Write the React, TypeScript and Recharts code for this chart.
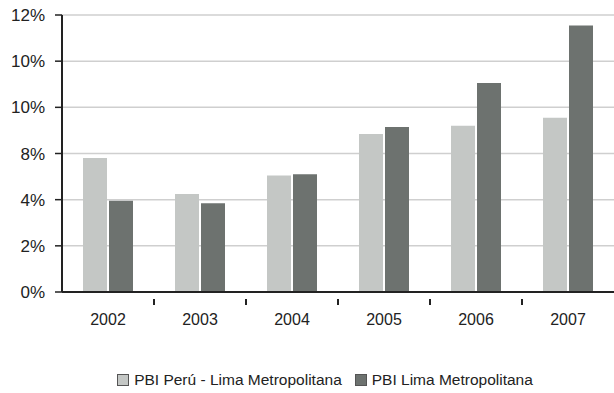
import { BarChart, Bar, XAxis, YAxis, CartesianGrid, Legend } from 'recharts';

// growth by year, in percent
const years = ['2002', '2003', '2004', '2005', '2006', '2007'];
const peruSinLima = [5.8, 4.25, 5.05, 6.85, 7.2, 7.55];
const limaMetro = [3.95, 3.85, 5.1, 7.15, 9.05, 11.55];

// tick positions and the labels printed beside them
const yTicks = [0, 2, 4, 6, 8, 10, 12];
const yTickLabels = ['0%', '2%', '4%', '8%', '10%', '10%', '12%'];

const seriesNames = ['PBI Perú - Lima Metropolitana', 'PBI Lima Metropolitana'];
const LIGHT = '#c4c7c5';
const DARK = '#6d726f';
const FONT = "Arial, 'Liberation Sans', sans-serif";

const data = years.map((year, i) => ({
  year,
  peru: peruSinLima[i],
  lima: limaMetro[i],
}));

function YearTick(props: any) {
  const { x, y, payload, width } = props;
  const band = width / years.length;
  return (
    <g>
      <text x={x} y={y + 25} textAnchor="middle" fontSize={16} fill="#222" fontFamily={FONT}>
        {payload.value}
      </text>
      {payload.index < years.length - 1 && (
        <line x1={x + band / 2} x2={x + band / 2} y1={y - 1} y2={y + 5} stroke="#222" strokeWidth={2} />
      )}
    </g>
  );
}

function LegendBox() {
  const colors = [LIGHT, DARK];
  return (
    <div
      style={{
        display: 'flex',
        justifyContent: 'center',
        paddingLeft: 36,
        gap: 13,
        fontFamily: FONT,
        fontSize: 15.5,
        color: '#222',
      }}
    >
      {seriesNames.map((name, i) => (
        <div key={name} style={{ display: 'flex', alignItems: 'center', gap: 5 }}>
          <span
            style={{
              width: 10,
              height: 10,
              background: colors[i],
              border: '1px solid #555',
              display: 'inline-block',
            }}
          />
          <span>{name}</span>
        </div>
      ))}
    </div>
  );
}

export default function App() {
  return (
    <div style={{ position: 'absolute', left: 0, top: 0, width: 614, height: 393, background: '#fff' }}>
      <BarChart
        width={614}
        height={393}
        data={data}
        margin={{ top: 15, right: 0, left: 0, bottom: 33 }}
        barSize={24}
        barGap={2}
      >
        <CartesianGrid vertical={false} stroke="#cfcfcf" strokeWidth={1.5} />
        <XAxis
          dataKey="year"
          height={50}
          tick={<YearTick />}
          tickLine={false}
          axisLine={{ stroke: '#222', strokeWidth: 2 }}
        />
        <YAxis
          width={62}
          domain={[0, 12]}
          ticks={yTicks}
          interval={0}
          tickFormatter={(v: number) => yTickLabels[yTicks.indexOf(v)]}
          tick={{ fontSize: 17, fill: '#222', fontFamily: FONT }}
          tickSize={7}
          tickMargin={10}
          tickLine={{ stroke: '#222', strokeWidth: 1.5 }}
          axisLine={{ stroke: '#222', strokeWidth: 2 }}
        />
        <Legend
          content={<LegendBox />}
          wrapperStyle={{ position: 'absolute', left: 0, top: 371, width: 614 }}
        />
        <Bar dataKey="peru" name={seriesNames[0]} fill={LIGHT} isAnimationActive={false} />
        <Bar dataKey="lima" name={seriesNames[1]} fill={DARK} isAnimationActive={false} />
      </BarChart>
    </div>
  );
}
